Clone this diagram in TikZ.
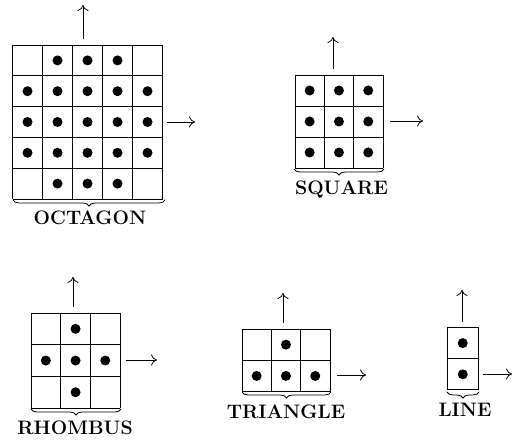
\documentclass[tikz,border=0pt]{standalone}
\usepackage{fontspec}
\usetikzlibrary{arrows.meta,decorations.pathreplacing}
\tikzset{
  gridline/.style={line width=0.8pt, black},
  dotfill/.style={fill=black},
  arrowline/.style={line width=0.8pt, -{To[length=6pt,width=11pt,line width=0.8pt]}},
  bracestyle/.style={line width=0.8pt, decorate, decoration={brace, mirror, amplitude=6pt}},
  labeltext/.style={font=\fontsize{19.5}{22}\selectfont\bfseries, anchor=base, inner sep=0pt}
}
% #1 left, #2 top, #3 cols, #4 rows, #5 cell width, #6 cell height, #7 dots c/r
\newcommand\mygrid[7]{%
  \foreach \i in {0,...,#3} {\draw[gridline] ({#1+\i*#5},#2) -- ++(0,{#4*#6});}
  \foreach \j in {0,...,#4} {\draw[gridline] (#1,{#2+\j*#6}) -- ++({#3*#5},0);}
  \foreach \c/\r in {#7} {\fill[dotfill] ({#1+(\c-0.5)*#5},{#2+(\r-0.5)*#6}) circle[radius=5pt];}
}
\begin{document}
\begin{tikzpicture}[x=1pt,y=-1pt]
\useasboundingbox (0,0) rectangle (515,441);
% OCTAGON
\mygrid{12.5}{45}{5}{5}{30}{30.8}{2/1,3/1,4/1,1/2,2/2,3/2,4/2,5/2,1/3,2/3,3/3,4/3,5/3,1/4,2/4,3/4,4/4,5/4,2/5,3/5,4/5}
\coordinate (octUs) at (83,39); \coordinate (octUe) at (83,5);
\coordinate (octRs) at (167,122); \coordinate (octRe) at (195,122);
\draw[arrowline] (octUs) -- (octUe);
\draw[arrowline] (octRs) -- (octRe);
\coordinate (octBa) at (13,200); \coordinate (octBb) at (165,200);
\draw[bracestyle] (octBa) -- (octBb);
\node[labeltext] (octL) at (90,225) {OCTAGON};
% SQUARE
\mygrid{295}{75}{3}{3}{29.3}{31}{1/1,2/1,3/1,1/2,2/2,3/2,1/3,2/3,3/3}
\coordinate (sqUs) at (333,69); \coordinate (sqUe) at (333,37);
\coordinate (sqRs) at (390,121); \coordinate (sqRe) at (423,121);
\draw[arrowline] (sqUs) -- (sqUe);
\draw[arrowline] (sqRs) -- (sqRe);
\coordinate (sqBa) at (294,169); \coordinate (sqBb) at (384,169);
\draw[bracestyle] (sqBa) -- (sqBb);
\node[labeltext] (sqL) at (341.5,195) {SQUARE};
% RHOMBUS
\mygrid{31}{313}{3}{3}{29.7}{31.7}{2/1,1/2,2/2,3/2,2/3}
\coordinate (rhUs) at (73,307); \coordinate (rhUe) at (73,277);
\coordinate (rhRs) at (126,360); \coordinate (rhRe) at (157,360);
\draw[arrowline] (rhUs) -- (rhUe);
\draw[arrowline] (rhRs) -- (rhRe);
\coordinate (rhBa) at (31,409); \coordinate (rhBb) at (121,409);
\draw[bracestyle] (rhBa) -- (rhBb);
\node[labeltext] (rhL) at (75,435) {RHOMBUS};
% TRIANGLE
\mygrid{242}{329}{3}{2}{29.3}{31.3}{2/1,1/2,2/2,3/2}
\coordinate (trUs) at (283,323); \coordinate (trUe) at (283,293);
\coordinate (trRs) at (337,375); \coordinate (trRe) at (366,375);
\draw[arrowline] (trUs) -- (trUe);
\draw[arrowline] (trRs) -- (trRe);
\coordinate (trBa) at (242,392); \coordinate (trBb) at (331,392);
\draw[bracestyle] (trBa) -- (trBb);
\node[labeltext] (trL) at (286,418) {TRIANGLE};
% LINE
\mygrid{447.5}{327.5}{1}{2}{30.5}{31.2}{1/1,1/2}
\coordinate (lnUs) at (462,322); \coordinate (lnUe) at (462,290);
\coordinate (lnRs) at (483,374); \coordinate (lnRe) at (512,374);
\draw[arrowline] (lnUs) -- (lnUe);
\draw[arrowline] (lnRs) -- (lnRe);
\coordinate (lnBa) at (447,392); \coordinate (lnBb) at (479,392);
\draw[bracestyle] (lnBa) -- (lnBb);
\node[labeltext] (lnL) at (465,417) {LINE};
\end{tikzpicture}
\end{document}
